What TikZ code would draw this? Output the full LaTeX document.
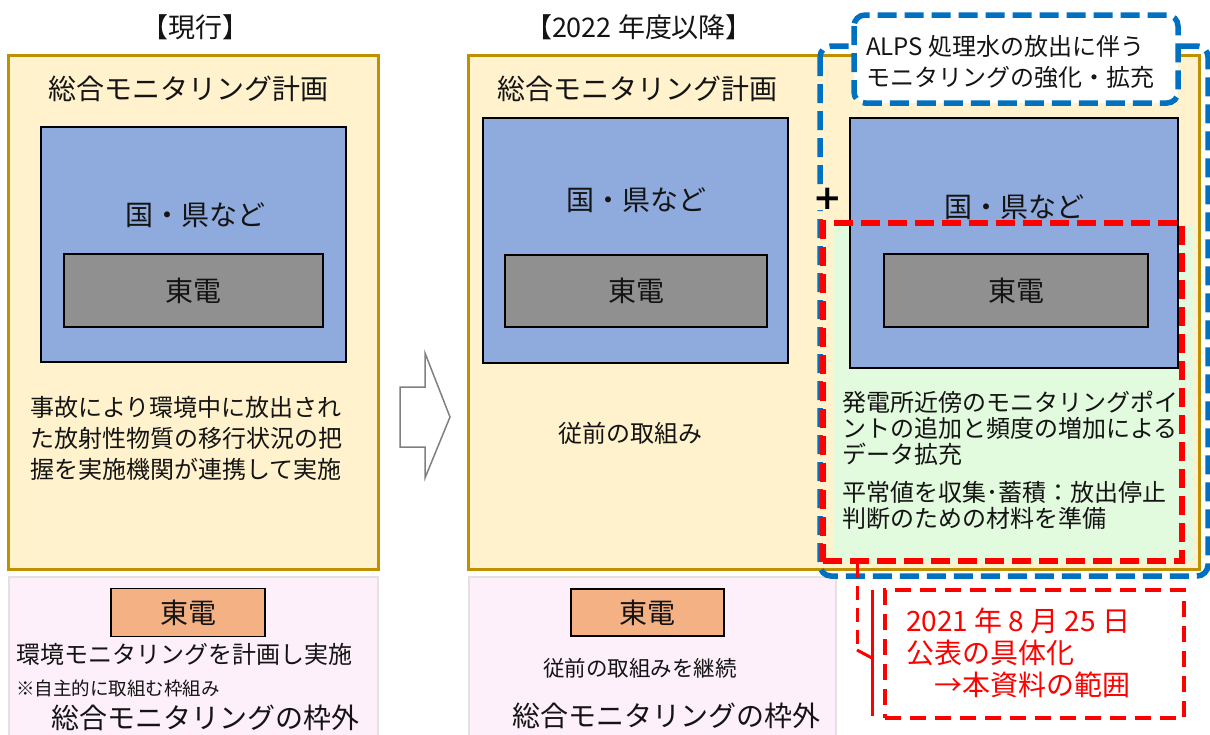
\documentclass[tikz,border=0pt]{standalone}
\usepackage{fontspec}
\setmainfont{Noto Sans CJK JP}
\newfontfamily\plusfont{DejaVu Sans}
\definecolor{tanc}{RGB}{191,144,0}
\definecolor{tanf}{RGB}{255,242,204}
\definecolor{bluef}{RGB}{143,170,220}
\definecolor{grayf}{RGB}{144,144,144}
\definecolor{orangef}{RGB}{244,177,131}
\definecolor{pinkf}{RGB}{253,240,251}
\definecolor{pinkl}{RGB}{226,226,226}
\definecolor{greenf}{RGB}{226,250,222}
\definecolor{dblue}{RGB}{0,112,192}
\definecolor{arrowg}{RGB}{128,128,128}
\definecolor{txt}{RGB}{20,20,20}
\tikzset{
  tanbox/.style={draw=tanc, line width=3pt, fill=tanf},
  pinkbox/.style={draw=pinkl, line width=1.5pt, fill=pinkf},
  bluebox/.style={draw=black, line width=1.5pt, fill=bluef},
  graybox/.style={draw=black, line width=1.5pt, fill=grayf, font=\fontsize{28}{32}\selectfont, text=txt},
  orangebox/.style={draw=black, line width=1.5pt, fill=orangef, font=\fontsize{28}{32}\selectfont, text=txt},
  bluedash/.style={draw=dblue, line width=5.5pt, dash pattern=on 19pt off 8pt, rounded corners=11pt},
  reddash/.style={draw=red, line width=6pt, dash pattern=on 19pt off 8pt},
  calloutdash/.style={draw=red, line width=4pt, dash pattern=on 16pt off 9pt},
  big/.style={font=\fontsize{28}{32}\selectfont, text=txt, inner sep=0pt},
  mid/.style={font=\fontsize{24}{31}\selectfont, text=txt, inner sep=0pt},
  ttl/.style={font=\fontsize{27}{30}\selectfont, text=txt, inner sep=0pt},
}
\begin{document}
\begin{tikzpicture}[x=1pt,y=-1pt]
\clip (0,0) rectangle (1210,734);
\fill[white] (0,0) rectangle (1210,734);
% titles
\node[ttl] (t1) at (195,27) {【現行】};
\node[ttl] (t2) at (639,27) {【2022 年度以降】};
% outer panels
\path[tanbox] (8,55) rectangle (378,569);
\path[tanbox] (468,55) rectangle (1199,569);
\path[pinkbox] (9,577) rectangle (378,740);
\path[pinkbox] (469,577) rectangle (836,740);
% left panel
\node[big] (p1) at (188,89) {総合モニタリング計画};
\node[bluebox, minimum width=305pt, minimum height=235pt] (b1) at (193.5,244.5) {};
\node[big] (k1) at (195,215) {国・県など};
\node[graybox, minimum width=259pt, minimum height=73pt] (g1) at (193.5,290.5) {東電};
\node[mid, anchor=west, align=left] (d1) at (30,438.5) {事故により環境中に放出され\\た放射性物質の移行状況の把\\握を実施機関が連携して実施};
% middle panel
\node[big] (p2) at (637,89) {総合モニタリング計画};
\node[bluebox, minimum width=305pt, minimum height=245pt] (b2) at (635.5,240.5) {};
\node[big] (k2) at (636,200) {国・県など};
\node[graybox, minimum width=262pt, minimum height=72pt] (g2) at (636,291) {東電};
\node[mid] (d2) at (630,433) {従前の取組み};
% right panel
\fill[greenf] (833,225) rectangle (1193,562);
\node[bluebox, minimum width=328pt, minimum height=250pt] (b3) at (1014,243) {};
\node[big] (k3) at (1014,207) {国・県など};
\node[graybox, minimum width=264pt, minimum height=73pt] (g3) at (1016,290.5) {東電};
\node[mid, anchor=west, align=left, font=\fontsize{24}{26}\selectfont] (d3) at (842,428) {発電所近傍のモニタリングポイ\\ントの追加と頻度の増加による\\データ拡充};
\node[mid, anchor=west, align=left, font=\fontsize{24}{26}\selectfont] (d4) at (842,505) {平常値を収集･蓄積：放出停止\\判断のための材料を準備};
% dashed frames
\path[bluedash] (820,46) rectangle (1208,576);
\node[reddash, minimum width=359pt, minimum height=338pt] (rb) at (1002.5,392) {};
\path[bluedash, fill=white] (854,15) rectangle (1178,103);
\node[mid, anchor=west, align=left] (lab) at (866,61.5) {ALPS 処理水の放出に伴う\\モニタリングの強化・拡充};
\node[font=\plusfont\bfseries\fontsize{34}{34}\selectfont, text=black, fill=tanf, inner sep=0.5pt, rounded corners=4pt] (plus) at (828,199) {+};
% arrow
\draw[arrowg, line width=1.5pt, fill=white, line join=miter] (400,387) -- (425,387) -- (425,353) -- (450,417) -- (425,478) -- (425,447) -- (400,447) -- cycle;
% bottom left
\node[orangebox, minimum width=154pt, minimum height=48pt] (o1) at (188,612.5) {東電};
\node[mid, anchor=west] (e1) at (16,654) {環境モニタリングを計画し実施};
\node[font=\fontsize{18.5}{22}\selectfont, text=txt, anchor=west, inner sep=0pt] (e2) at (16,688) {※自主的に取組む枠組み};
\node[big] (e3) at (205,718) {総合モニタリングの枠外};
% bottom middle
\node[orangebox, minimum width=153pt, minimum height=47pt] (o2) at (647.5,612.5) {東電};
\node[font=\fontsize{21.5}{26}\selectfont, text=txt, inner sep=0pt] (f1) at (640,668) {従前の取組みを継続};
\node[big] (f2) at (666,716) {総合モニタリングの枠外};
% callout
\node[calloutdash, minimum width=299pt, minimum height=128pt] (cb) at (1034.5,654) {};
\node[font=\fontsize{28}{32}\selectfont, text=red, anchor=west, align=left, inner sep=0pt] (ct) at (906,653) {2021 年 8 月 25 日\\公表の具体化\\\hspace*{28pt}→本資料の範囲};
\coordinate (lk) at (857,650);
\coordinate (lb) at (872,658);
\coordinate (bt) at (872,590);
\coordinate (bb) at (872,716);
\draw[red, line width=3pt, dash pattern=on 14pt off 8pt] (rb.south west -| lk) -- (lk);
\draw[red, line width=3pt] (lk) -- (lb);
\draw[red, line width=3pt] (bt) -- (bb);
\end{tikzpicture}
\end{document}
